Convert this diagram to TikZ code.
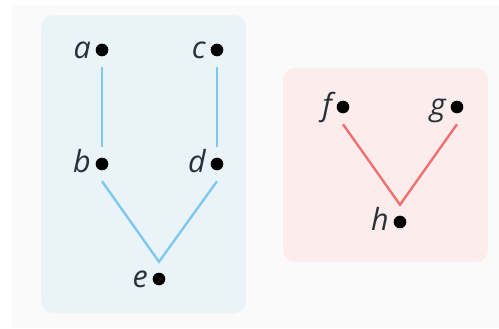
\documentclass[tikz,border=0pt]{standalone}
\usepackage{fontspec}
\setmainfont{Open Sans}
\usetikzlibrary{calc}
\definecolor{fgink}{HTML}{263238}
\definecolor{fgpage}{HTML}{FAFAFA}
\definecolor{fgblue}{HTML}{7DC8EE}
\definecolor{fgbluebg}{HTML}{EAF3F7}
\definecolor{fgred}{HTML}{F26D6D}
\definecolor{fgredbg}{HTML}{FDECEC}
\tikzset{
  pt/.style={circle,inner sep=0pt,minimum size=1.02cm,
    path picture={\fill[black] (path picture bounding box.center) circle (0.19cm);}},
  lbl/.style={font=\fontsize{26}{30}\selectfont\itshape,text=fgink,inner sep=0pt,anchor=base east},
  blueedge/.style={draw=fgblue,line width=2pt},
  rededge/.style={draw=fgred,line width=2pt},
  panel/.style={rounded corners=0.36cm},
}

\begin{document}
\begin{tikzpicture}[x=0.03cm,y=-0.03cm]
  \useasboundingbox (0,0) rectangle (499,328);
  \fill[fgpage] (12,5) rectangle (499,328);
  \fill[panel,fgbluebg] (41,15) rectangle (246,313);
  \fill[panel,fgredbg] (283,68) rectangle (488,262);
  % left tree
  \node[pt] (a) at (102,50) {};
  \node[pt] (c) at (217,50) {};
  \node[pt] (b) at (102,164) {};
  \node[pt] (d) at (217,164) {};
  \node[pt] (e) at (159,279) {};
  % right tree
  \node[pt] (f) at (343,107) {};
  \node[pt] (g) at (457,107) {};
  \node[pt] (h) at (400,222) {};
  \foreach \v in {a,b,c,d,e,f,g,h}
    \node[lbl] (\v-lbl) at ($(\v)+(-11,8)$) {\v};
  \draw[blueedge] (a.south)--(b.north);
  \draw[blueedge] (c.south)--(d.north);
  \draw[blueedge] (b.south)--(e.north)--(d.south);
  \draw[rededge] (f.south)--(h.north)--(g.south);
\end{tikzpicture}
\end{document}
